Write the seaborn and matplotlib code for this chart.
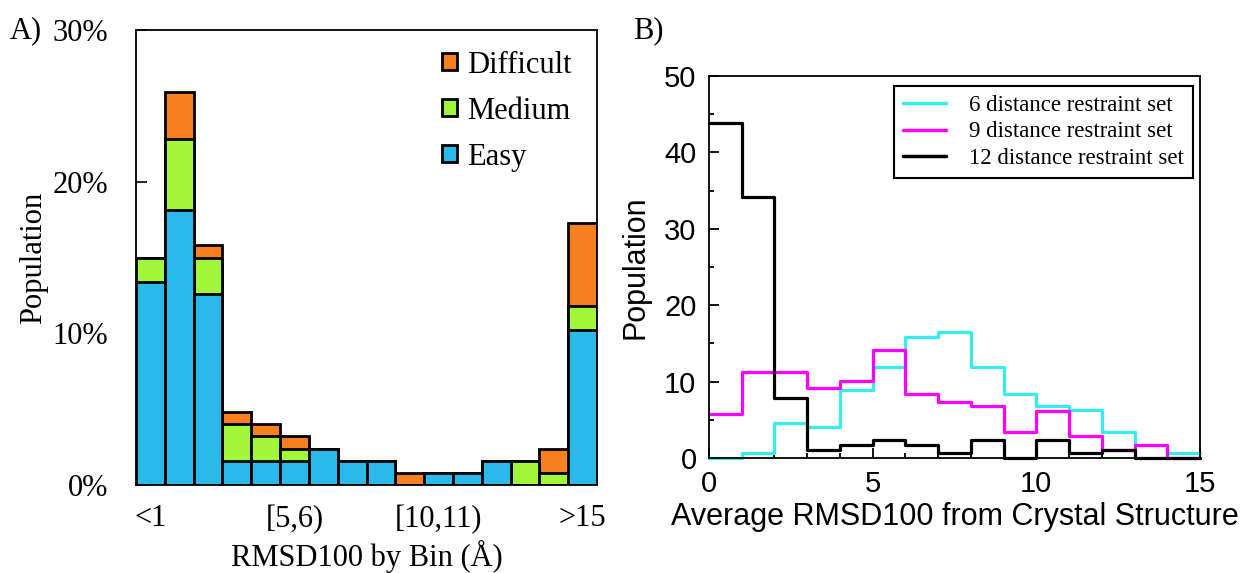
import numpy as np
import pandas as pd
import matplotlib
matplotlib.use("Agg")
import matplotlib.pyplot as plt
import seaborn as sns
from matplotlib.patches import Patch
from matplotlib.lines import Line2D

# ---------------- data ----------------
bins_a = ["<1", "[1,2)", "[2,3)", "[3,4)", "[4,5)", "[5,6)", "[6,7)", "[7,8)",
          "[8,9)", "[9,10)", "[10,11)", "[11,12)", "[12,13)", "[13,14)", "[14,15)", ">15"]
easy = [13.4, 18.1, 12.6, 1.6, 1.6, 1.6, 2.4, 1.6, 1.6, 0.0, 0.8, 0.8, 1.6, 0.0, 0.0, 10.2]
medium = [1.6, 4.7, 2.4, 2.4, 1.6, 0.8, 0.0, 0.0, 0.0, 0.0, 0.0, 0.0, 0.0, 1.6, 0.8, 1.6]
difficult = [0.0, 3.1, 0.8, 0.8, 0.8, 0.8, 0.0, 0.0, 0.0, 0.8, 0.0, 0.0, 0.0, 0.0, 1.6, 5.5]
shown_xticks_a = ["<1", "[5,6)", "[10,11)", ">15"]
yticks_a = [0, 10, 20, 30]
ytick_labels_a = ["0%", "10%", "20%", "30%"]

edges_b = list(range(0, 16))
set6 = [0.0, 0.6, 4.6, 4.0, 8.9, 11.9, 15.8, 16.5, 11.9, 8.4, 6.8, 6.3, 3.4, 1.7, 0.6]
set9 = [5.7, 11.3, 11.3, 9.2, 10.1, 14.2, 8.4, 7.3, 6.8, 3.4, 6.2, 2.9, 1.1, 1.7, 0.0]
set12 = [43.8, 34.1, 7.9, 1.1, 1.7, 2.3, 1.7, 0.6, 2.3, 0.0, 2.3, 0.6, 1.1, 0.0, 0.0]
labels_b = ["6 distance restraint set", "9 distance restraint set", "12 distance restraint set"]

# ---------------- style ----------------
sns.set_style("ticks")
plt.rcParams["font.family"] = ["Liberation Serif", "DejaVu Serif"]
for k in ["text.color", "axes.labelcolor", "xtick.color", "ytick.color", "axes.edgecolor"]:
    plt.rcParams[k] = "black"

C_EASY = "#2BB9EC"
C_MED = "#A3F73B"
C_DIFF = "#F98020"
C_6 = "#33EEEE"
C_9 = "#FF00FF"
C_12 = "#000000"

fig = plt.figure(figsize=(12.42, 5.73), dpi=100)
W, H = 1242, 573

def rect(l, t, r, b):
    return [l / W, 1 - b / H, (r - l) / W, (b - t) / H]

# ---------------- panel A ----------------
axA = fig.add_axes(rect(136, 30, 597, 485))
df = pd.DataFrame({"bin": bins_a, "easy": easy, "medium": medium, "difficult": difficult})
df["cum_med"] = df["easy"] + df["medium"]
df["cum_all"] = df["cum_med"] + df["difficult"]

for col, c in [("cum_all", C_DIFF), ("cum_med", C_MED), ("easy", C_EASY)]:
    sns.barplot(data=df, x="bin", y=col, order=bins_a, color=c, saturation=1,
                width=1.0, edgecolor="black", linewidth=2.0, ax=axA)

axA.set_xlim(-0.5, len(bins_a) - 0.5)
axA.set_ylim(0, 30)
axA.set_yticks(yticks_a)
axA.set_yticklabels(ytick_labels_a)
axA.set_xticks([bins_a.index(s) for s in shown_xticks_a])
axA.set_xticklabels(shown_xticks_a)
axA.tick_params(axis="y", direction="in", length=8, width=1.2, pad=20, labelsize=22)
axA.tick_params(axis="x", length=0, pad=14, labelsize=22)
for s in axA.spines.values():
    s.set_linewidth(1.3)
    s.set_visible(True)
axA.set_xlabel("RMSD100 by Bin (Å)", fontsize=22)
axA.xaxis.set_label_coords(0.5, -0.12)
axA.set_ylabel("Population", fontsize=22)
axA.yaxis.set_label_coords(-0.19, 0.5)

hA = [Patch(facecolor=C_DIFF, edgecolor="black", linewidth=2),
      Patch(facecolor=C_MED, edgecolor="black", linewidth=2),
      Patch(facecolor=C_EASY, edgecolor="black", linewidth=2)]
axA.legend(hA, ["Difficult", "Medium", "Easy"], loc="upper right",
           bbox_to_anchor=(0.985, 0.995), frameon=False, fontsize=22,
           handlelength=0.48, handleheight=0.48, handletextpad=0.35,
           labelspacing=0.56, borderaxespad=0.2)

fig.text(10 / W, 1 - 31 / H, "A)", fontsize=22, va="center", ha="left")

# ---------------- panel B ----------------
axB = fig.add_axes(rect(709, 76, 1200, 458))
centers = [e + 0.5 for e in edges_b[:-1]]
for vals, c in [(set6, C_6), (set9, C_9), (set12, C_12)]:
    sns.histplot(x=centers, weights=vals, bins=edges_b, element="step", fill=False,
                 color=c, linewidth=2.3, clip_on=False, ax=axB)

axB.set_xlim(0, 15)
axB.set_ylim(0, 50)
axB.set_xticks([0, 5, 10, 15])
axB.set_xticks(range(0, 16), minor=True)
axB.set_yticks(range(0, 51, 10))
axB.set_yticks(range(0, 51, 5), minor=True)
sans = ["Liberation Sans", "DejaVu Sans"]
axB.tick_params(axis="both", which="major", direction="in", length=7, width=1.3,
                pad=9, labelsize=21)
axB.tick_params(axis="both", which="minor", direction="in", length=3.5, width=1.3)
axB.tick_params(axis="y", which="both", right=False)
axB.tick_params(axis="x", which="both", top=False)
for lab in axB.get_xticklabels() + axB.get_yticklabels():
    lab.set_family(sans)
for s in axB.spines.values():
    s.set_linewidth(1.3)
    s.set_visible(True)
axB.set_xlabel("Average RMSD100 from Crystal Structure", fontsize=22, family=sans)
axB.xaxis.set_label_coords(0.5, -0.115)
axB.set_ylabel("Population", fontsize=22, family=sans)
axB.yaxis.set_label_coords(-0.12, 0.5)

hB = [Line2D([], [], color=C_6, linewidth=2.5),
      Line2D([], [], color=C_9, linewidth=2.5),
      Line2D([], [], color=C_12, linewidth=2.5)]
legB = axB.legend(hB, labels_b, loc="upper right", bbox_to_anchor=(0.99, 0.98),
                  fontsize=16.4, frameon=True, fancybox=False, framealpha=1,
                  edgecolor="black", handlelength=1.9, handletextpad=1.0,
                  labelspacing=0.24, borderpad=0.4, borderaxespad=0.1)
legB.get_frame().set_linewidth(1.5)

fig.text(633 / W, 1 - 31 / H, "B)", fontsize=22, va="center", ha="left")

fig.savefig("out.png", dpi=100)
